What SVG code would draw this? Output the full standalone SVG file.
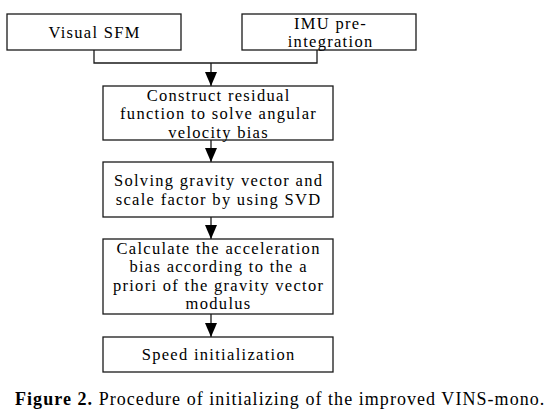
<svg xmlns="http://www.w3.org/2000/svg" width="548" height="415" viewBox="0 0 548 415">
<style>
.box{fill:#fff;stroke:#1a1a1a;stroke-width:1.3}
.t{font-family:"Liberation Serif","Times New Roman",serif;font-size:16.5px;letter-spacing:1.3px;fill:#000;text-anchor:middle}
.cap{font-family:"Liberation Serif","Times New Roman",serif;font-size:18px;letter-spacing:1.05px;fill:#000}
.ln{fill:none;stroke:#1a1a1a;stroke-width:1.3}
</style>
<defs>
<marker id="ah" markerUnits="userSpaceOnUse" markerWidth="14" markerHeight="12" refX="14" refY="6" orient="auto">
<path d="M0,0 L14,6 L0,12 Z" fill="#000"/>
</marker>
</defs>
<rect width="548" height="415" fill="#fff"/>
<g id="connectors">
<path class="ln" d="M94,50 V63 H317 V50"/>
<path class="ln" d="M211,63 V86" marker-end="url(#ah)"/>
<path class="ln" d="M211,140 V162" marker-end="url(#ah)"/>
<path class="ln" d="M211,217 V239" marker-end="url(#ah)"/>
<path class="ln" d="M211,314 V337" marker-end="url(#ah)"/>
</g>
<g id="visual-sfm">
<rect class="box" x="7" y="14" width="174" height="36"/>
<text class="t" x="94.6" y="38">Visual SFM</text>
</g>
<g id="imu-preintegration">
<rect class="box" x="242" y="14" width="174" height="36"/>
<text class="t" x="330.6" y="28.5">IMU pre-</text>
<text class="t" x="330.6" y="47">integration</text>
</g>
<g id="residual">
<rect class="box" x="103" y="86" width="230" height="54"/>
<text class="t" x="218.6" y="100.5">Construct residual</text>
<text class="t" x="218.6" y="119">function to solve angular</text>
<text class="t" x="218.6" y="137.5">velocity bias</text>
</g>
<g id="gravity-svd">
<rect class="box" x="103" y="162" width="230" height="55"/>
<text class="t" x="218.6" y="186">Solving gravity vector and</text>
<text class="t" x="218.6" y="205">scale factor by using SVD</text>
</g>
<g id="accel-bias">
<rect class="box" x="103" y="239" width="230" height="75"/>
<text class="t" x="218.6" y="253.5">Calculate the acceleration</text>
<text class="t" x="218.6" y="272">bias according to the a</text>
<text class="t" x="218.6" y="290.5">priori of the gravity vector</text>
<text class="t" x="218.6" y="309">modulus</text>
</g>
<g id="speed-init">
<rect class="box" x="103" y="337" width="230" height="35"/>
<text class="t" x="218.6" y="360">Speed initialization</text>
</g>
<text class="cap" x="15" y="405"><tspan font-weight="bold">Figure 2.</tspan> Procedure of initializing of the improved VINS-mono.</text>
</svg>
